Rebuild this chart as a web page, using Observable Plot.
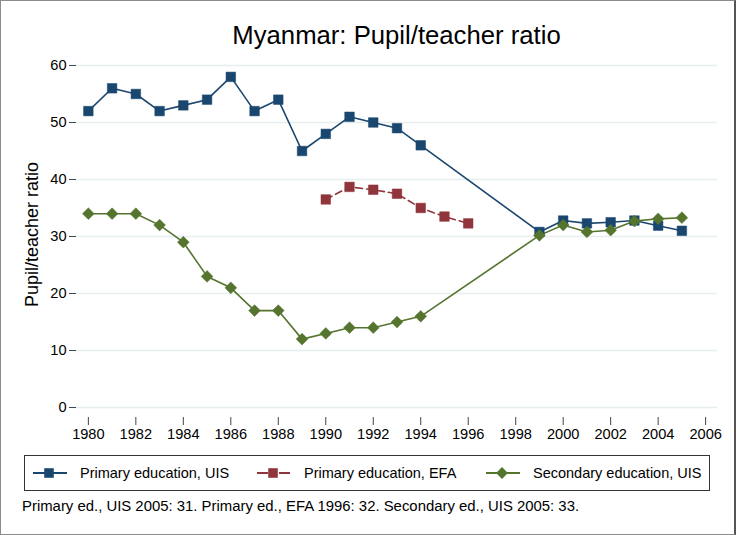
<!DOCTYPE html>
<html>
<head>
<meta charset="utf-8">
<script src="https://cdn.jsdelivr.net/npm/d3@7"></script>
<script src="https://cdn.jsdelivr.net/npm/@observablehq/plot@0.6"></script>
<style>
  body { margin: 0; background: #fff; }
  #chart { position: relative; width: 736px; height: 535px; background: #fff; font-family: "Liberation Sans", Arial, sans-serif; color: #000; overflow: hidden; }
  #chart svg.plot { position: absolute; left: 0; top: 0; }
  #border { position: absolute; left: 0; top: 0; width: 736px; height: 535px; box-sizing: border-box; border: 1px solid #8c8c8c; border-right: 2px solid #555; pointer-events: none; }
  #title { position: absolute; left: 76px; width: 641px; top: 23px; text-align: center; font-size: 25.7px; line-height: 25px; white-space: nowrap; }
  #legend { position: absolute; left: 24px; top: 455px; width: 686px; height: 36px; box-sizing: border-box; border: 1px solid #333; }
  .item { position: absolute; top: 0; height: 34px; display: flex; align-items: center; font-size: 14.5px; white-space: nowrap; }
  .item svg { margin-right: 11px; }
  #caption { position: absolute; left: 22px; top: 499px; font-size: 14.9px; line-height: 15px; white-space: nowrap; }
</style>
</head>
<body>
<div id="chart">
  <div id="title">Myanmar: Pupil/teacher ratio</div>
  <div id="legend"></div>
  <div id="caption">Primary ed., UIS 2005: 31. Primary ed., EFA 1996: 32. Secondary ed., UIS 2005: 33.</div>
  <div id="border"></div>
</div>
<script>
// ---- data ----
const seriesNames = ["Primary education, UIS", "Primary education, EFA", "Secondary education, UIS"];
const seriesColors = ["#1a476f", "#90353b", "#55752f"];
const seriesSymbols = ["square", "square", "diamond2"];
const seriesDash = [null, "7,4", null];

const yearsUIS = [1980, 1981, 1982, 1983, 1984, 1985, 1986, 1987, 1988, 1989, 1990, 1991, 1992, 1993, 1994, 1999, 2000, 2001, 2002, 2003, 2004, 2005];
const primaryUIS = [52, 56, 55, 52, 53, 54, 58, 52, 54, 45, 48, 51, 50, 49, 46, 30.8, 32.8, 32.3, 32.5, 32.8, 31.9, 31];
const secondaryUIS = [34, 34, 34, 32, 29, 23, 21, 17, 17, 12, 13, 14, 14, 15, 16, 30.2, 32.0, 30.8, 31.1, 32.7, 33.1, 33.3];

const yearsEFA = [1990, 1991, 1992, 1993, 1994, 1995, 1996];
const primaryEFA = [36.5, 38.7, 38.2, 37.5, 35.0, 33.5, 32.3];

const xTicks = [1980, 1982, 1984, 1986, 1988, 1990, 1992, 1994, 1996, 1998, 2000, 2002, 2004, 2006];
const yTicks = [0, 10, 20, 30, 40, 50, 60];
const yLabel = "Pupil/teacher ratio";

// ---- table ----
const rows = [];
yearsUIS.forEach((yr, i) => rows.push({series: seriesNames[0], year: yr, value: primaryUIS[i]}));
yearsEFA.forEach((yr, i) => rows.push({series: seriesNames[1], year: yr, value: primaryEFA[i]}));
yearsUIS.forEach((yr, i) => rows.push({series: seriesNames[2], year: yr, value: secondaryUIS[i]}));

const marks = [
  Plot.gridY(yTicks, {stroke: "#e6eeef", strokeOpacity: 1, strokeWidth: 1.5}),
];
seriesNames.forEach((name, i) => {
  const data = rows.filter(d => d.series === name);
  marks.push(Plot.line(data, {x: "year", y: "value", stroke: seriesColors[i], strokeWidth: 1.6, strokeDasharray: seriesDash[i] || undefined}));
});
seriesNames.forEach((name, i) => {
  const data = rows.filter(d => d.series === name);
  const isDiamond = seriesSymbols[i] === "diamond2";
  marks.push(Plot.dot(data, {x: "year", y: "value", symbol: seriesSymbols[i], r: isDiamond ? 5.3 : 5.4, fill: seriesColors[i], stroke: seriesColors[i], strokeWidth: 0.5}));
});
marks.push(
  Plot.axisX({ticks: xTicks, tickFormat: "d", tickSize: 8, tickPadding: 3, fontSize: 14.6, line: true, stroke: "#444", color: "#000", label: null}),
  Plot.axisY({ticks: yTicks, tickSize: 7, tickPadding: 3, fontSize: 14.6, line: true, stroke: "#444", color: "#000", label: null}),
  Plot.text([yLabel], {frameAnchor: "left", rotate: -90, dx: -44, dy: -2, textAnchor: "middle", lineAnchor: "middle", fontSize: 18, fill: "#000"})
);

const plot = Plot.plot({
  width: 736,
  height: 450,
  marginTop: 55,
  marginBottom: 33,
  marginLeft: 76,
  marginRight: 19,
  style: {fontFamily: "Liberation Sans, Arial, sans-serif", background: "transparent", color: "#000"},
  x: {domain: [1979.5, 2006.5]},
  y: {domain: [-1.75, 61.75]},
  marks
});
plot.classList.add("plot");
document.getElementById("chart").insertBefore(plot, document.getElementById("title"));

// ---- legend ----
const legend = document.getElementById("legend");
const itemLefts = [8, 232, 461];
seriesNames.forEach((name, i) => {
  const item = document.createElement("div");
  item.className = "item";
  item.style.left = itemLefts[i] + "px";
  const ns = "http://www.w3.org/2000/svg";
  const svg = document.createElementNS(ns, "svg");
  svg.setAttribute("width", 36);
  svg.setAttribute("height", 16);
  const line = document.createElementNS(ns, "line");
  line.setAttribute("x1", 0); line.setAttribute("x2", 34);
  line.setAttribute("y1", 8); line.setAttribute("y2", 8);
  line.setAttribute("stroke", seriesColors[i]);
  line.setAttribute("stroke-width", 1.8);
  if (seriesDash[i]) line.setAttribute("stroke-dasharray", "11,4,3,4");
  svg.appendChild(line);
  const sym = document.createElementNS(ns, "path");
  const isDiamond = seriesSymbols[i] === "diamond2";
  const r = isDiamond ? 5.3 : 5.4;
  const gen = d3.symbol(isDiamond ? d3.symbolDiamond2 : d3.symbolSquare, r * r * Math.PI);
  sym.setAttribute("d", gen());
  sym.setAttribute("transform", "translate(16,8)");
  sym.setAttribute("fill", seriesColors[i]);
  svg.appendChild(sym);
  item.appendChild(svg);
  const span = document.createElement("span");
  span.textContent = name;
  item.appendChild(span);
  legend.appendChild(item);
});
</script>
</body>
</html>
